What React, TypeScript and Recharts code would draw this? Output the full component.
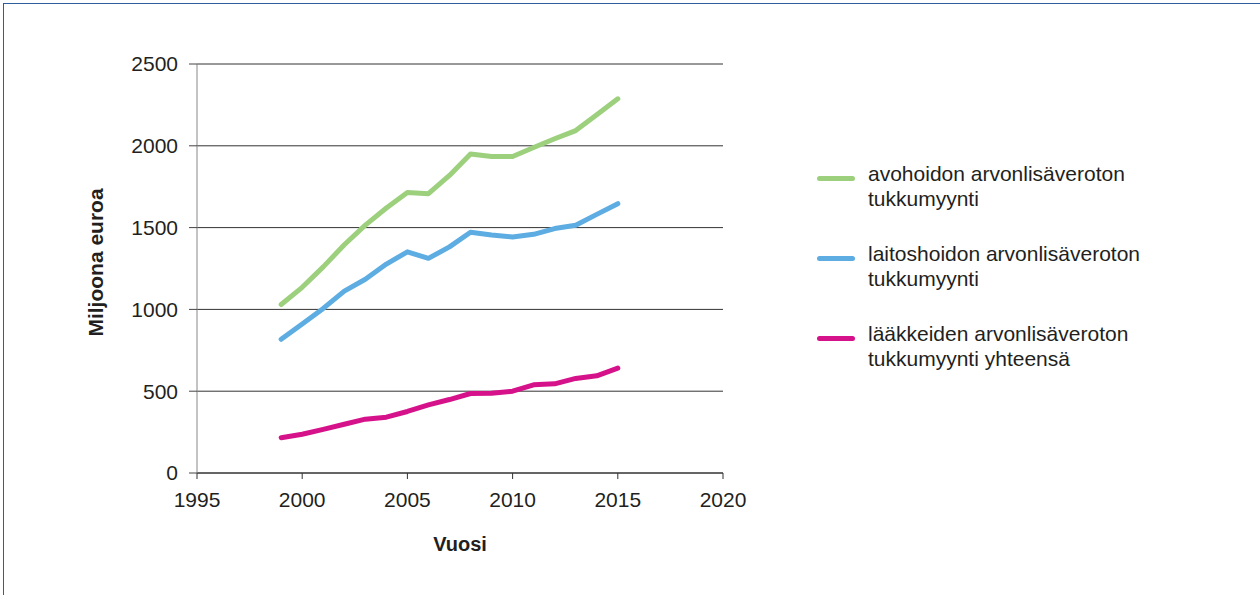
import React from "react";
import {
  LineChart, Line, XAxis, YAxis, CartesianGrid,
} from "recharts";

const years = [1999, 2000, 2001, 2002, 2003, 2004, 2005, 2006, 2007, 2008, 2009, 2010, 2011, 2012, 2013, 2014, 2015];
const avohoito = [1030, 1135, 1260, 1395, 1515, 1620, 1715, 1707, 1819, 1950, 1935, 1935, 1990, 2043, 2093, 2190, 2287];
const laitoshoito = [817, 911, 1006, 1112, 1184, 1277, 1352, 1312, 1382, 1472, 1455, 1443, 1459, 1494, 1514, 1581, 1646];
const yhteensa = [216, 237, 267, 298, 329, 341, 376, 416, 449, 486, 488, 500, 539, 545, 578, 594, 641];

const xTicks = [1995, 2000, 2005, 2010, 2015, 2020];
const yTicks = [0, 500, 1000, 1500, 2000, 2500];

const SERIES = [
  { key: "avo", name: "avohoidon arvonlisäveroton\ntukkumyynti", color: "#9dd07d" },
  { key: "lai", name: "laitoshoidon arvonlisäveroton\ntukkumyynti", color: "#5dade2" },
  { key: "yht", name: "lääkkeiden arvonlisäveroton\ntukkumyynti yhteensä", color: "#d6128b" },
];

const FONT = '"Liberation Sans", Arial, Helvetica, sans-serif';

const data = years.map((y, i) => ({
  year: y,
  avo: avohoito[i],
  lai: laitoshoito[i],
  yht: yhteensa[i],
}));

function LegendBox() {
  return (
    <div style={{
      position: "absolute", left: 817, top: 161, width: 420,
      fontFamily: FONT, fontSize: 21, lineHeight: "25px", color: "#231f20",
    }}>
      {SERIES.map((s) => (
        <div key={s.key} style={{ display: "flex", alignItems: "flex-start", marginBottom: 30 }}>
          <div style={{
            width: 38, height: 5, borderRadius: 3, background: s.color,
            marginTop: 15, marginRight: 13, flex: "none",
          }} />
          <div style={{ whiteSpace: "pre-line" }}>{s.name}</div>
        </div>
      ))}
    </div>
  );
}

const YTitle = ({ viewBox }: any) => {
  const cx = 103;
  const cy = viewBox.y + viewBox.height / 2 - 6;
  return (
    <text x={cx} y={cy} transform={`rotate(-90, ${cx}, ${cy})`} textAnchor="middle"
          fontFamily={FONT} fontSize={21} fontWeight="bold" fill="#231f20">
      Miljoona euroa
    </text>
  );
};

export default function App() {
  return (
    <div style={{ position: "absolute", left: 0, top: 0, width: 1260, height: 595, background: "#fff", overflow: "hidden" }}>
      <div style={{
        position: "absolute", left: 3, top: 3, width: 1257, height: 592,
        borderTop: "1px solid #2f5e9e", borderLeft: "1px solid #2f5e9e",
      }}>
        <div style={{ position: "absolute", left: -4, top: -4 }}>
          <LineChart width={1260} height={595} data={data}
                     margin={{ top: 64, right: 537, bottom: 92, left: 0 }}
                     style={{ fontFamily: FONT }}>
            <CartesianGrid vertical={false} stroke="#333" strokeWidth={1} />
            <XAxis type="number" dataKey="year" domain={[1995, 2020]} ticks={xTicks}
                   height={30} tickSize={6} tickMargin={13}
                   axisLine={{ stroke: "#333" }} tickLine={{ stroke: "#333" }}
                   tick={{ fontSize: 21, fill: "#231f20", fontFamily: FONT }}
                   label={{ value: "Vuosi", position: "bottom", offset: 34, fontSize: 20,
                            fontWeight: "bold", fill: "#231f20", fontFamily: FONT }} />
            <YAxis type="number" domain={[0, 2500]} ticks={yTicks} width={197}
                   tickSize={8} tickMargin={11}
                   axisLine={{ stroke: "#888" }} tickLine={{ stroke: "#444" }}
                   tick={{ fontSize: 21, fill: "#231f20", fontFamily: FONT }}
                   label={{ content: YTitle }} />
            {SERIES.map((s) => (
              <Line key={s.key} type="linear" dataKey={s.key} name={s.name} stroke={s.color}
                    strokeWidth={5} dot={false} strokeLinecap="round" strokeLinejoin="round"
                    isAnimationActive={false} />
            ))}
          </LineChart>
          <LegendBox />
        </div>
      </div>
    </div>
  );
}
